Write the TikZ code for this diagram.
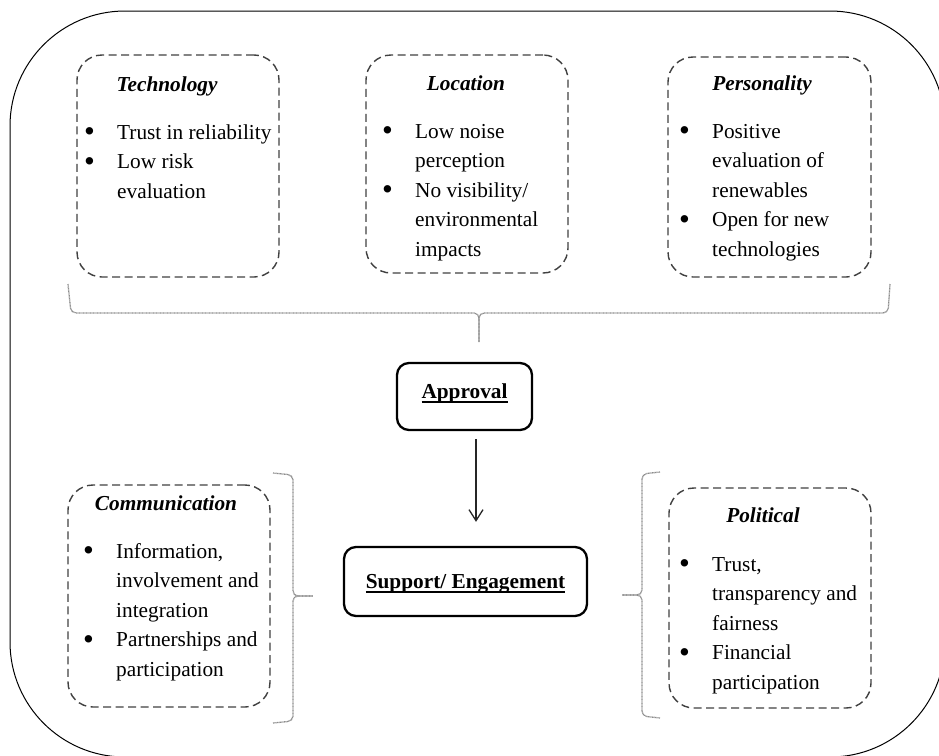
\documentclass[tikz,border=0pt]{standalone}
\usepackage{fontspec}
\setmainfont{Liberation Serif}
\usetikzlibrary{arrows.meta}
\newsavebox{\ulbox}
\newcommand{\uln}[1]{\sbox{\ulbox}{#1}\rlap{\rule[-4.8pt]{\wd\ulbox}{1.8pt}}\usebox{\ulbox}}
\newcommand{\bul}{\rule{0pt}{16pt}\makebox[32pt][l]{\hspace*{-1.2pt}\raisebox{-2.6pt}{\scalebox{1.45}{\textbullet}}}}
\newcommand{\ind}{\hspace*{32pt}}
\begin{document}
\begin{tikzpicture}[x=1pt,y=-1pt,
  outerframe/.style={draw=black, line width=1pt, rounded corners=115pt},
  factorbox/.style={draw=black!75, line width=1.4pt, dash pattern=on 8pt off 4.5pt, rounded corners=25pt, inner sep=0pt},
  titletext/.style={anchor=base, inner sep=0pt, font=\fontsize{21.3}{29.5}\selectfont\bfseries\itshape},
  itemtext/.style={anchor=north west, inner sep=0pt, align=left, font=\fontsize{21.3}{29.5}\selectfont},
  keybox/.style={draw=black, line width=2.3pt, rounded corners=12pt, inner sep=0pt, font=\fontsize{21.3}{29.5}\selectfont\bfseries},
  bracket/.style={draw=black!45, line width=1.3pt, dash pattern=on 0.9pt off 0.5pt, rounded corners=5pt},
  flow/.style={draw=black!85, line width=1.3pt, -{Straight Barb[length=11pt,width=14pt]}}
]
\useasboundingbox (0,0) rectangle (939,755);
\begin{scope}
  \clip (0,0) rectangle (939,755);
  \draw[outerframe] (10,11) rectangle (945,757);
\end{scope}

% factor boxes
\node[factorbox, minimum width=202pt, minimum height=222pt] (tech) at (178,166) {};
\node[factorbox, minimum width=202pt, minimum height=218pt] (loc) at (467,164) {};
\node[factorbox, minimum width=203pt, minimum height=220pt] (pers) at (769.5,167) {};
\node[factorbox, minimum width=202pt, minimum height=222pt] (comm) at (169,596) {};
\node[factorbox, minimum width=202pt, minimum height=220pt] (pol) at (770,598) {};

% titles
\node[titletext] (techT) at (167,91) {Technology};
\node[titletext] (locT) at (466,90) {Location};
\node[titletext] (persT) at (762,90) {Personality};
\node[titletext] (commT) at (166,510) {Communication};
\node[titletext] (polT) at (763,522) {Political};

% items
\node[itemtext] (techI) at (85,123) {\bul Trust in reliability\\ \bul Low risk\\ \ind evaluation};
\node[itemtext] (locI) at (383,122) {\bul Low noise\\ \ind perception\\ \bul No visibility/\\ \ind environmental\\ \ind impacts};
\node[itemtext] (persI) at (680,122) {\bul Positive\\ \ind evaluation of\\ \ind renewables\\ \bul Open for new\\ \ind technologies};
\node[itemtext] (commI) at (84,542) {\bul Information,\\ \ind involvement and\\ \ind integration\\ \bul Partnerships and\\ \ind participation};
\node[itemtext] (polI) at (680,555) {\bul Trust,\\ \ind transparency and\\ \ind fairness\\ \bul Financial\\ \ind participation};

% key boxes
\node[keybox, minimum width=135pt, minimum height=67pt, text height=15pt, text depth=12pt] (appr) at (464.5,396.5) {\uln{Approval}};
\node[keybox, minimum width=243pt, minimum height=69pt, text height=15pt, text depth=2pt] (supp) at (465.5,581.5) {\uln{Support/ Engagement}};

% arrow
\coordinate (ax) at (476,0);
\draw[flow, shorten <=8pt, shorten >=24pt] (appr.south -| ax) -- (supp.north -| ax);

% brackets
\draw[bracket] (68,284) -- (71,313) -- (479,313) -- (479,342);
\draw[bracket] (890,284) -- (888,313) -- (479,313) -- (479,342);
\draw[bracket] (273,473) -- (293,475) -- (293,596) -- (313,596);
\draw[bracket] (273,723) -- (293,721) -- (293,596) -- (313,596);
\draw[bracket] (660,472) -- (642,474) -- (642,595) -- (622,595);
\draw[bracket] (660,718) -- (642,716) -- (642,595) -- (622,595);
\end{tikzpicture}
\end{document}
